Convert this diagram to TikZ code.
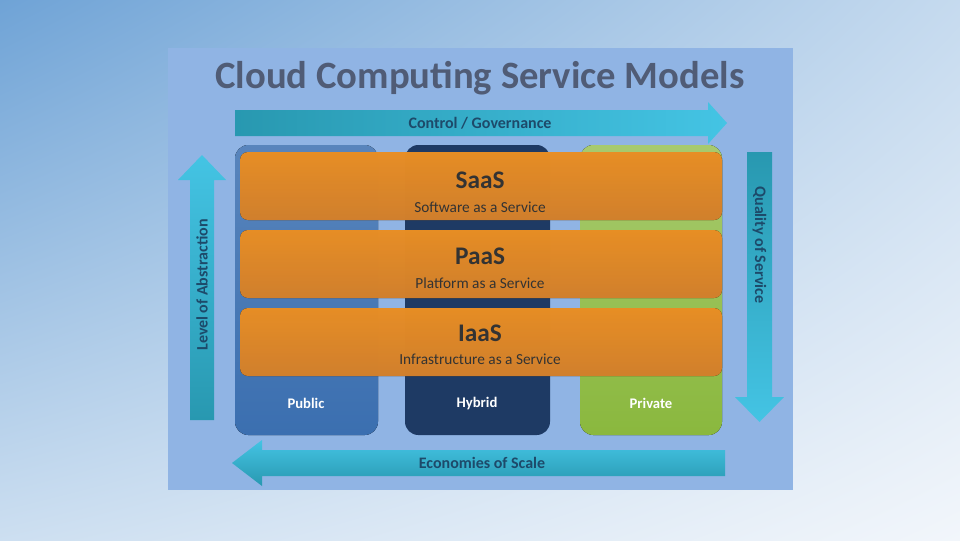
\documentclass[tikz,border=0pt]{standalone}
\usepackage{fontspec}
\setmainfont{Carlito}
\usetikzlibrary{shadings}
\definecolor{bgdark}{HTML}{6FA3D6}
\definecolor{bglight}{HTML}{F2F6FB}
\definecolor{panel}{HTML}{90B4E4}
\definecolor{titlegray}{HTML}{505C76}
\definecolor{tealdark}{HTML}{2898B0}
\definecolor{teallight}{HTML}{44C4E4}
\definecolor{arrowtext}{HTML}{1D4A6A}
\definecolor{publicblue}{HTML}{3B6FB0}
\definecolor{hybridnavy}{HTML}{1E3A64}
\definecolor{privategreen}{HTML}{8AB83E}
\definecolor{orangetop}{HTML}{FF9C28}
\definecolor{orangebot}{HTML}{E68C30}
\begin{document}
\begin{tikzpicture}[x=0.75pt, y=-0.75pt,
  column/.style={rounded corners=10pt},
  layer/.style={rounded corners=6pt, top color=orangetop, bottom color=orangebot, opacity=0.9},
  arrowlabel/.style={text=arrowtext, font=\fontsize{12}{14}\selectfont\bfseries},
  modelname/.style={text=white, font=\fontsize{11}{13}\selectfont\bfseries},
  layername/.style={text=black!80, font=\fontsize{19}{22}\selectfont\bfseries},
  layersub/.style={text=black!80, font=\fontsize{11.5}{13}\selectfont}]
\useasboundingbox (0,0) rectangle (960,540);
\shade[upper left=bgdark, upper right=bgdark!40!white, lower left=bgdark!35!white, lower right=bglight] (0,0) rectangle (960,540);
\fill[panel] (168,48) rectangle (793,490);
\node[text=titlegray, font=\fontsize{29}{34}\selectfont\bfseries](title) at (480,78) {Cloud Computing Service Models};
% arrows round the models
\shade[left color=tealdark, right color=teallight] (235,110) -- (708,110) -- (708,102) -- (727,123) -- (708,144) -- (708,136) -- (235,136) -- cycle;
\shade[top color=teallight, bottom color=tealdark] (190,420) -- (190,180) -- (178,180) -- (202,155) -- (226,180) -- (214,180) -- (214,420) -- cycle;
\shade[top color=tealdark, bottom color=teallight] (747,152) -- (747,397) -- (735,397) -- (759.5,422) -- (784,397) -- (772,397) -- (772,152) -- cycle;
\shade[top color=teallight, bottom color=tealdark] (725,450) -- (262,450) -- (262,440) -- (232,463) -- (262,486) -- (262,476) -- (725,476) -- cycle;
\node[arrowlabel](0) at (480,123) {Control / Governance};
\node[arrowlabel, rotate=90](1) at (202,285) {Level of Abstraction};
\node[arrowlabel, rotate=-90](2) at (759.5,245) {Quality of Service};
\node[arrowlabel](3) at (482,463) {Economies of Scale};
% deployment models
\fill[column, top color=publicblue!85!white, bottom color=publicblue] (235,145) rectangle (378,435);
\fill[column, hybridnavy] (405,145) rectangle (550,435);
\fill[column, top color=privategreen!75!white, bottom color=privategreen] (580,145) rectangle (722,435);
\node[modelname](4) at (306,403) {Public};
\node[modelname](5) at (477,403) {Hybrid};
\node[modelname](6) at (651,403) {Private};
% service layers
\fill[layer] (240,152) rectangle (722,220);
\fill[layer] (240,230) rectangle (722,298);
\fill[layer] (240,308) rectangle (722,376);
\node[layername](7) at (480,180) {SaaS};
\node[layersub](8) at (480,207) {Software as a Service};
\node[layername](9) at (480,256) {PaaS};
\node[layersub](10) at (480,283) {Platform as a Service};
\node[layername](11) at (480,333) {IaaS};
\node[layersub](12) at (480,359) {Infrastructure as a Service};
\end{tikzpicture}
\end{document}
